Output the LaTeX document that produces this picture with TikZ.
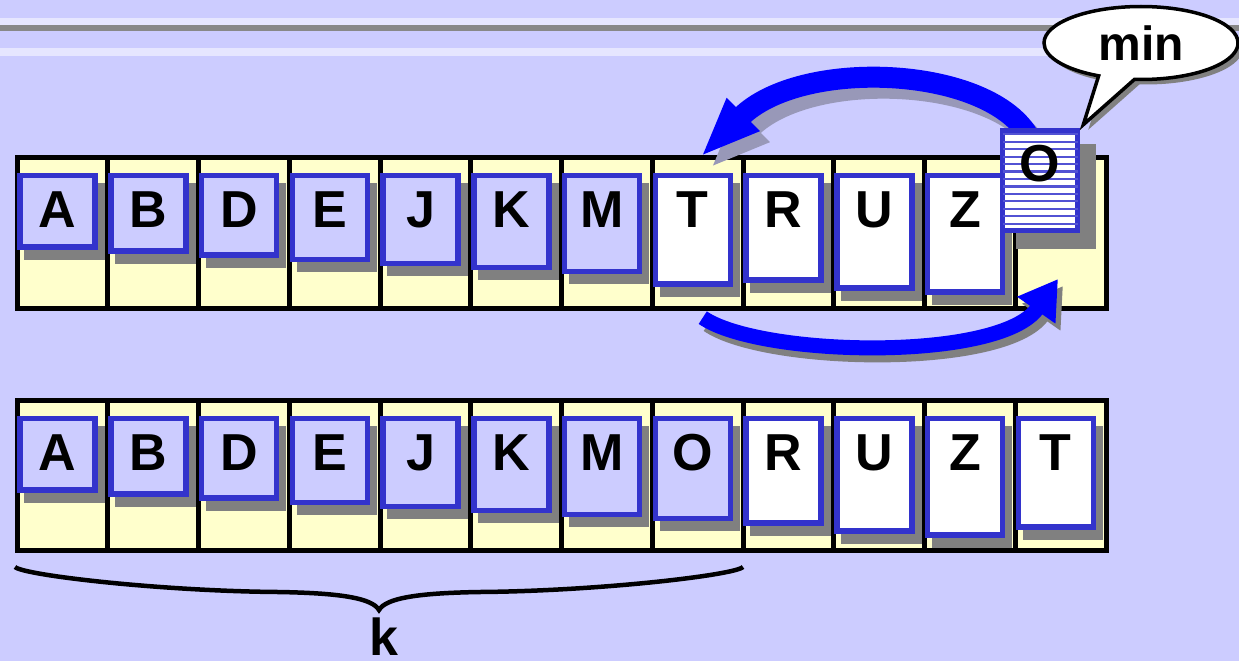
\documentclass[tikz,border=0pt]{standalone}
\usepackage{fontspec}
\setmainfont{Liberation Sans}
\usetikzlibrary{
  arrows.meta,
  shadows,
  shapes.callouts
}
\definecolor{bg}{HTML}{CCCCFF}
\definecolor{bgl}{HTML}{E6E6FF}
\definecolor{gl}{HTML}{888888}
\definecolor{cy}{HTML}{FFFFCC}
\definecolor{cb}{HTML}{3333CC}
\definecolor{sg}{HTML}{808080}
\definecolor{sga}{HTML}{9898B8}
\definecolor{ab}{HTML}{0000FF}

\begin{document}
\begin{tikzpicture}[x=1pt, y=-1pt,
    cl/.style={draw=black, fill=cy, line width=5pt},
    cd/.style={draw=cb, line width=5.5pt, minimum width=75pt, inner sep=0pt,
               anchor=north west},
    ds/.style={drop shadow={shadow xshift=7pt, shadow yshift=-10pt,
                            fill=sg, draw=sg, opacity=1}},
    dso/.style={drop shadow={shadow xshift=16pt, shadow yshift=-16pt,
                             fill=sg, draw=sg, opacity=1}},
    lt/.style={font=\fontsize{52}{60}\selectfont\bfseries, inner sep=0pt,
               anchor=base},
    ara/.style={line width=21pt, -{Triangle[length=60pt, width=42pt]}},
    arb/.style={line width=15pt, -{Triangle[length=38pt, width=44pt]}},
    st/.style={draw=cb!85, line width=2.2pt},
    co/.style={ellipse callout, draw=black, fill=white, line width=3.5pt,
               minimum width=194pt, minimum height=73pt,
               callout pointer arc=22,
               font=\fontsize{48}{50}\selectfont\bfseries,
               drop shadow={shadow xshift=5pt, shadow yshift=-5pt,
                            fill=sg, opacity=1}},
    br/.style={draw=black, line width=4.5pt}
  ]
  \fill[bg] (0,0) rectangle (1239,661);
  \useasboundingbox (0,0) rectangle (1239,661);
  \fill[bgl] (0,18) rectangle (1239,25);
  \fill[gl] (0,25) rectangle (1239,31);
  \fill[bgl] (0,48) rectangle (1239,56);

  % the two arrays
  \foreach \i in {0,...,11} {
    \draw[cl] ({17+90.75*\i},157.5) rectangle +(90.75,150.5);
    \draw[cl] ({17+90.75*\i},400) rectangle +(90.75,150);
  }

  % before the swap
  \foreach \l/\r/\f [count=\i from 0] in {A/0/bg,B/1/bg,D/2/bg,E/3/bg,J/4/bg,
      K/5/bg,M/6/bg,T/9/white,R/8/white,U/10/white,Z/11/white} {
    \pgfmathsetmacro\h{71.5+4.1*\r}
    \node[cd, ds, fill=\f, minimum height=\h pt] (a\i) at ({17.25+90.75*\i},172.75) {};
    \node[lt] (la\i) at ([yshift=-54.25pt]a\i.north) {\l};
  }

  % after the swap
  \foreach \l/\r/\f [count=\i from 0] in {A/0/bg,B/1/bg,D/2/bg,E/3/bg,J/4/bg,
      K/5/bg,M/6/bg,O/7/bg,R/8/white,U/10/white,Z/11/white,T/9/white} {
    \pgfmathsetmacro\h{71.5+4.1*\r}
    \node[cd, ds, fill=\f, minimum height=\h pt] (b\i) at ({17.25+90.75*\i},415.75) {};
    \node[lt] (lb\i) at ([yshift=-54.25pt]b\i.north) {\l};
  }

  % swap arrows
  \coordinate (src) at (1028,135);
  \coordinate (slot) at (1058,279);
  \draw[ara, draw=sga, transform canvas={shift={(10,11)}}]
    (src) .. controls (985,65) and (800,58) .. ([shift={(8,-16)}]a7.north);
  \draw[ara, draw=ab]
    (src) .. controls (985,65) and (800,58) .. ([shift={(8,-16)}]a7.north);
  \draw[arb, draw=sg, transform canvas={shift={(5,7)}}]
    ([shift={(10,31)}]a7.south) .. controls (760,357) and (1000,362) .. (slot);
  \draw[arb, draw=ab]
    ([shift={(10,31)}]a7.south) .. controls (760,357) and (1000,362) .. (slot);

  % lifted minimum
  \node[cd, dso, fill=white, minimum height=100.2pt] (oc) at (999.75,127.75) {};
  \foreach \k in {0,...,12}
    \draw[st] ([shift={(2.75,6.55+7.45*\k)}]oc.north west)
           -- ([shift={(-2.75,6.55+7.45*\k)}]oc.north east);
  \node[lt] (lo) at ([yshift=-53.25pt]oc.north) {O};
  \node[co, callout absolute pointer={([shift={(3,-3)}]oc.north east)}] (mn)
    at (1141,43) {min};

  % brace
  \draw[br] (15,567) .. controls (23,575) and (158,591) .. (278,592)
     .. controls (340,593) and (372,598) .. (379,610)
     .. controls (386,598) and (418,593) .. (480,592)
     .. controls (600,591) and (735,575) .. (743,567);
  \node[lt] (kk) at (384,655) {k};
\end{tikzpicture}
\end{document}
